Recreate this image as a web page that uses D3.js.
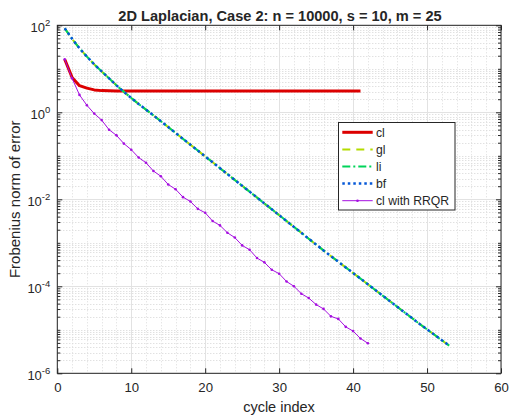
<!DOCTYPE html>
<html>
<head>
<meta charset="utf-8">
<script src="https://cdn.jsdelivr.net/npm/d3@7"></script>
<style>
  body { margin: 0; background: #fff; }
  text { font-family: "Liberation Sans", Arial, Helvetica, sans-serif; fill: #262626; }
</style>
</head>
<body>
<div id="chart"></div>
<script>
// error per cycle
const clErr = [16.6, 6.35, 4.10, 3.60, 3.27, 3.15, 3.12, 3.10, 3.10, 3.10,
  3.10, 3.10, 3.10, 3.10, 3.10, 3.10, 3.10, 3.10, 3.10, 3.10,
  3.10, 3.10, 3.10, 3.10, 3.10, 3.10, 3.10, 3.10, 3.10, 3.10,
  3.10, 3.10, 3.10, 3.10, 3.10, 3.10, 3.10, 3.10, 3.10, 3.10, 3.10];
const glErr = [85.1, 49.0, 29.5, 19.1, 12.6, 8.71, 6.03, 4.17, 2.95, 2.14,
  1.55, 1.15, 0.851, 0.624, 0.457, 0.335, 0.245, 0.180, 0.132, 0.0966,
  0.0708, 0.0519, 0.0380, 0.0279, 0.0204, 0.0150, 0.0110, 8.04e-3, 5.89e-3, 4.32e-3,
  3.16e-3, 2.32e-3, 1.70e-3, 1.24e-3, 9.12e-4, 6.68e-4, 4.95e-4, 3.67e-4, 2.72e-4, 2.02e-4,
  1.50e-4, 1.11e-4, 8.22e-5, 6.10e-5, 4.52e-5, 3.35e-5, 2.48e-5, 1.84e-5, 1.36e-5, 1.02e-5,
  7.67e-6, 5.75e-6, 4.32e-6];
// li and bf lie right on top of gl
const liErr = glErr.slice();
const bfErr = glErr.slice();
const rrqrErr = [16.6, 6.03, 2.51, 1.45, 0.933, 0.661, 0.398, 0.295, 0.191, 0.138,
  0.0912, 0.0692, 0.0447, 0.0339, 0.0219, 0.0170, 0.0112, 8.91e-3, 6.03e-3, 4.90e-3,
  3.16e-3, 2.51e-3, 1.70e-3, 1.32e-3, 8.71e-4, 6.92e-4, 4.47e-4, 3.55e-4, 2.40e-4, 1.95e-4,
  1.29e-4, 1.00e-4, 6.76e-5, 5.37e-5, 3.80e-5, 3.02e-5, 2.04e-5, 1.78e-5, 1.17e-5, 9.33e-6,
  6.31e-6, 4.90e-6];

const xTicks = [0, 10, 20, 30, 40, 50, 60];
const yExps = [-6, -4, -2, 0, 2];

const series = [
  { name: "cl", values: clErr, color: "#dc0000", width: 3, dash: null },
  { name: "gl", values: glErr, color: "#b4dc00", width: 2, dash: "8,6" },
  { name: "li", values: liErr, color: "#00d45a", width: 2, dash: "8,3,2,3" },
  { name: "bf", values: bfErr, color: "#0558d8", width: 2.5, dash: "2.5,3" },
  { name: "cl with RRQR", values: rrqrErr, color: "#a50fe0", width: 1, dash: null, marker: true }
];

const W = 509, H = 417;
const pLeft = 57.3, pRight = 501, pTop = 25.3, pBottom = 373.3;

const svg = d3.select("#chart").append("svg")
  .attr("width", W).attr("height", H);
svg.append("rect").attr("width", W).attr("height", H).attr("fill", "#fff");

const x = d3.scaleLinear().domain([0, 60]).range([pLeft, pRight]);
const y = d3.scaleLog().domain([1e-6, 1e2]).range([pBottom, pTop]);

// minor positions
const yMinor = [];
for (let e = -6; e < 2; e++) {
  for (let k = 1; k < 10; k++) {
    const v = k * Math.pow(10, e);
    if (!(k === 1 && e % 2 === 0)) yMinor.push(v);
  }
}
const xMinor = d3.range(0, 61, 2).filter(v => v % 10 !== 0);

// grid
const grid = svg.append("g");
grid.selectAll(".ymin").data(yMinor).enter().append("line")
  .attr("x1", pLeft).attr("x2", pRight)
  .attr("y1", d => Math.round(y(d)) + 0.5).attr("y2", d => Math.round(y(d)) + 0.5)
  .attr("stroke", "#d4d4d4").attr("stroke-width", 1).attr("stroke-dasharray", "1,2");
grid.selectAll(".xmin").data(xMinor).enter().append("line")
  .attr("y1", pTop).attr("y2", pBottom)
  .attr("x1", d => Math.round(x(d)) + 0.5).attr("x2", d => Math.round(x(d)) + 0.5)
  .attr("stroke", "#dcdcdc").attr("stroke-width", 1).attr("stroke-dasharray", "1,2");
grid.selectAll(".ymaj").data(yExps).enter().append("line")
  .attr("x1", pLeft).attr("x2", pRight)
  .attr("y1", d => Math.round(y(Math.pow(10, d))) + 0.5).attr("y2", d => Math.round(y(Math.pow(10, d))) + 0.5)
  .attr("stroke", "#e2e2e2").attr("stroke-width", 1);
grid.selectAll(".xmaj").data(xTicks).enter().append("line")
  .attr("y1", pTop).attr("y2", pBottom)
  .attr("x1", d => Math.round(x(d)) + 0.5).attr("x2", d => Math.round(x(d)) + 0.5)
  .attr("stroke", "#e2e2e2").attr("stroke-width", 1);

// data lines
const line = d3.line()
  .x((d, i) => x(i + 1))
  .y(d => y(d));

series.forEach(s => {
  svg.append("path")
    .datum(s.values)
    .attr("fill", "none")
    .attr("stroke", s.color)
    .attr("stroke-width", s.width)
    .attr("stroke-dasharray", s.dash)
    .attr("stroke-linejoin", "round")
    .attr("d", line);
  if (s.marker) {
    svg.append("g").selectAll("circle")
      .data(s.values)
      .enter().append("circle")
      .attr("cx", (d, i) => x(i + 1))
      .attr("cy", d => y(d))
      .attr("r", 1.3)
      .attr("fill", s.color);
  }
});

// axes, ticks pointing inward
const axisStyle = g => {
  g.select(".domain").remove();
  g.selectAll(".tick line").attr("stroke", "#262626");
};

svg.append("g").attr("transform", `translate(0,${pBottom})`)
  .call(d3.axisBottom(x).tickValues(xTicks).tickSize(-5).tickPadding(9).tickFormat(d3.format("d")))
  .call(axisStyle)
  .selectAll("text").attr("font-size", 13.2).attr("fill", "#262626");
svg.append("g").attr("transform", `translate(0,${pTop})`)
  .call(d3.axisTop(x).tickValues(xTicks).tickSize(-5).tickFormat(""))
  .call(axisStyle);

const yl = svg.append("g").attr("transform", `translate(${pLeft},0)`)
  .call(d3.axisLeft(y).tickValues(yExps.map(e => Math.pow(10, e))).tickSize(-5).tickPadding(7).tickFormat(""))
  .call(axisStyle);
yl.selectAll(".tick text").each(function(d) {
  const t = d3.select(this).attr("font-size", 13).attr("dy", "0.5em").attr("x", -7);
  t.append("tspan").text("10");
  t.append("tspan").attr("dy", -6).attr("font-size", 9.5).text(Math.round(Math.log10(d)));
});
svg.append("g").attr("transform", `translate(${pLeft},0)`)
  .call(d3.axisLeft(y).tickValues(yMinor).tickSize(-3).tickFormat(""))
  .call(axisStyle);
svg.append("g").attr("transform", `translate(${pRight},0)`)
  .call(d3.axisRight(y).tickValues(yExps.map(e => Math.pow(10, e))).tickSize(-5).tickFormat(""))
  .call(axisStyle);
svg.append("g").attr("transform", `translate(${pRight},0)`)
  .call(d3.axisRight(y).tickValues(yMinor).tickSize(-3).tickFormat(""))
  .call(axisStyle);

// frame
svg.append("rect")
  .attr("x", pLeft).attr("y", pTop)
  .attr("width", pRight - pLeft).attr("height", pBottom - pTop)
  .attr("fill", "none").attr("stroke", "#262626").attr("stroke-width", 1);

// labels
svg.append("text")
  .attr("x", 280).attr("y", 20.5)
  .attr("text-anchor", "middle")
  .attr("font-size", 14.6).attr("font-weight", "bold")
  .attr("fill", "#000")
  .text("2D Laplacian, Case 2: n = 10000, s = 10, m = 25");
svg.append("text")
  .attr("x", 279).attr("y", 412)
  .attr("text-anchor", "middle")
  .attr("font-size", 14.5)
  .text("cycle index");
svg.append("text")
  .attr("transform", `translate(20,${(pTop + pBottom) / 2}) rotate(-90)`)
  .attr("text-anchor", "middle")
  .attr("font-size", 15)
  .text("Frobenius norm of error");

// legend
const lg = svg.append("g");
lg.append("rect")
  .attr("x", 338.5).attr("y", 122.5)
  .attr("width", 116.5).attr("height", 87.5)
  .attr("fill", "#fff").attr("stroke", "#262626").attr("stroke-width", 1);
const rowY = d3.scalePoint().domain(series.map(s => s.name)).range([132.3, 200.7]);
series.forEach(s => {
  const cy = rowY(s.name);
  lg.append("line")
    .attr("x1", 342.3).attr("x2", 372.7)
    .attr("y1", cy).attr("y2", cy)
    .attr("stroke", s.color).attr("stroke-width", s.width)
    .attr("stroke-dasharray", s.dash);
  if (s.marker) {
    lg.append("circle").attr("cx", 357.5).attr("cy", cy).attr("r", 1.3).attr("fill", s.color);
  }
  lg.append("text")
    .attr("x", 376).attr("y", cy + 4.3)
    .attr("font-size", 12.2).attr("fill", "#000")
    .text(s.name);
});
</script>
</body>
</html>
